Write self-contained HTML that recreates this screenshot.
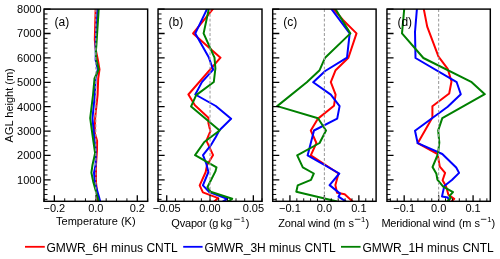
<!DOCTYPE html><html><head><meta charset="utf-8"><style>html,body{margin:0;padding:0;background:#fff}svg{display:block;will-change:transform}</style></head><body>
<svg width="500" height="259" viewBox="0 0 500 259" font-family="Liberation Sans, sans-serif">
<rect width="500" height="259" fill="#fff"/>
<g clip-path="url(#c0)" fill="none" stroke-width="2.0" stroke-linejoin="round" stroke-linecap="square">
<polyline points="95.6,9.1 94.8,40.0 95.8,50.0 97.9,60.0 99.5,69.3 98.2,78.5 97.6,95.0 95.1,118.2 94.8,133.0 97.1,140.8 97.0,150.0 96.0,165.0 96.0,182.0 97.9,201.3" stroke="#ff0000"/>
<polyline points="97.6,9.1 95.6,45.0 95.8,52.0 95.6,60.0 97.8,69.6 95.6,78.5 94.8,95.0 92.5,118.2 94.0,135.0 95.6,150.0 95.6,165.0 94.0,172.7 94.8,182.0 100.2,201.3" stroke="#0000ff"/>
<polyline points="98.7,9.1 96.4,45.0 95.8,52.0 96.4,60.0 98.7,69.3 94.5,78.5 93.0,95.0 90.2,118.2 92.5,135.0 95.1,153.2 92.5,165.0 91.4,172.7 93.3,182.0 98.7,201.3" stroke="#008000"/>
</g>
<clipPath id="c0"><rect x="44.0" y="9.1" width="103.65" height="192.20000000000002"/></clipPath>
<path d="M44.00 179.85h6.6 M44.00 155.45h6.6 M44.00 131.06h6.6 M44.00 106.67h6.6 M44.00 82.28h6.6 M44.00 57.88h6.6 M44.00 33.49h6.6 M44.00 9.10h6.6 M54.36 201.8v-6.6 M95.83 201.8v-6.6 M137.29 201.8v-6.6" stroke="#000" stroke-width="1.3" fill="none"/>
<path d="M44.00 199.36h3.5 M44.00 194.48h3.5 M44.00 189.60h3.5 M44.00 184.73h3.5 M44.00 174.97h3.5 M44.00 170.09h3.5 M44.00 165.21h3.5 M44.00 160.33h3.5 M44.00 150.58h3.5 M44.00 145.70h3.5 M44.00 140.82h3.5 M44.00 135.94h3.5 M44.00 126.18h3.5 M44.00 121.31h3.5 M44.00 116.43h3.5 M44.00 111.55h3.5 M44.00 101.79h3.5 M44.00 96.91h3.5 M44.00 92.03h3.5 M44.00 87.16h3.5 M44.00 77.40h3.5 M44.00 72.52h3.5 M44.00 67.64h3.5 M44.00 62.76h3.5 M44.00 53.01h3.5 M44.00 48.13h3.5 M44.00 43.25h3.5 M44.00 38.37h3.5 M44.00 28.61h3.5 M44.00 23.74h3.5 M44.00 18.86h3.5 M44.00 13.98h3.5 M44.00 201.8v-3.5 M64.73 201.8v-3.5 M75.09 201.8v-3.5 M85.46 201.8v-3.5 M106.19 201.8v-3.5 M116.55 201.8v-3.5 M126.92 201.8v-3.5 M147.65 201.8v-3.5" stroke="#000" stroke-width="0.95" fill="none"/>
<line x1="95.83" y1="9.1" x2="95.83" y2="201.3" stroke="#a0a0a0" stroke-width="1.1" stroke-dasharray="2.9 1.9"/>
<rect x="44.0" y="9.1" width="103.65" height="192.20" fill="none" stroke="#000" stroke-width="1.45"/>
<text x="54.36" y="211.9" font-size="11" text-anchor="middle">−0.2</text>
<text x="95.83" y="211.9" font-size="11" text-anchor="middle">0.0</text>
<text x="137.29" y="211.9" font-size="11" text-anchor="middle">0.2</text>
<text x="95.83" y="224.8" font-size="11" text-anchor="middle">Temperature (K)</text>
<text x="54.50" y="25.6" font-size="12">(a)</text>
<text x="41.6" y="183.75" font-size="11" text-anchor="end">1000</text>
<text x="41.6" y="159.35" font-size="11" text-anchor="end">2000</text>
<text x="41.6" y="134.96" font-size="11" text-anchor="end">3000</text>
<text x="41.6" y="110.57" font-size="11" text-anchor="end">4000</text>
<text x="41.6" y="86.18" font-size="11" text-anchor="end">5000</text>
<text x="41.6" y="61.78" font-size="11" text-anchor="end">6000</text>
<text x="41.6" y="37.39" font-size="11" text-anchor="end">7000</text>
<text x="41.6" y="13.00" font-size="11" text-anchor="end">8000</text>
<g clip-path="url(#c1)" fill="none" stroke-width="2.0" stroke-linejoin="round" stroke-linecap="square">
<polyline points="212.8,9.1 193.1,33.4 220.5,57.7 188.4,94.5 194.9,105.3 208.4,117.7 208.4,123.1 210.4,131.2 206.4,140.7 213.1,155.1 207.0,165.3 205.7,172.0 199.7,185.4 202.9,192.4 218.2,198.1 214.4,201.3" stroke="#ff0000"/>
<polyline points="207.0,9.1 195.3,33.4 208.6,57.0 213.2,69.6 201.9,82.1 195.3,94.5 215.8,106.0 231.1,118.8 219.2,130.5 215.8,137.0 211.3,144.6 203.0,155.1 206.4,163.9 208.4,172.0 202.9,185.4 209.3,192.1 227.1,198.8 223.3,201.3" stroke="#0000ff"/>
<polyline points="208.8,9.1 203.6,33.4 214.5,57.7 215.4,68.5 213.8,82.0 196.2,95.1 191.1,106.4 219.6,130.5 204.3,142.0 195.1,155.1 216.5,167.3 215.4,171.4 207.4,187.3 210.6,191.7 232.2,198.8 228.4,201.3" stroke="#008000"/>
</g>
<clipPath id="c1"><rect x="158.05" y="9.1" width="103.94999999999999" height="192.20000000000002"/></clipPath>
<path d="M158.05 179.85h6.6 M158.05 155.45h6.6 M158.05 131.06h6.6 M158.05 106.67h6.6 M158.05 82.28h6.6 M158.05 57.88h6.6 M158.05 33.49h6.6 M158.05 9.10h6.6 M166.71 201.8v-6.6 M210.03 201.8v-6.6 M253.34 201.8v-6.6" stroke="#000" stroke-width="1.3" fill="none"/>
<path d="M158.05 199.36h3.5 M158.05 194.48h3.5 M158.05 189.60h3.5 M158.05 184.73h3.5 M158.05 174.97h3.5 M158.05 170.09h3.5 M158.05 165.21h3.5 M158.05 160.33h3.5 M158.05 150.58h3.5 M158.05 145.70h3.5 M158.05 140.82h3.5 M158.05 135.94h3.5 M158.05 126.18h3.5 M158.05 121.31h3.5 M158.05 116.43h3.5 M158.05 111.55h3.5 M158.05 101.79h3.5 M158.05 96.91h3.5 M158.05 92.03h3.5 M158.05 87.16h3.5 M158.05 77.40h3.5 M158.05 72.52h3.5 M158.05 67.64h3.5 M158.05 62.76h3.5 M158.05 53.01h3.5 M158.05 48.13h3.5 M158.05 43.25h3.5 M158.05 38.37h3.5 M158.05 28.61h3.5 M158.05 23.74h3.5 M158.05 18.86h3.5 M158.05 13.98h3.5 M158.05 201.8v-3.5 M175.38 201.8v-3.5 M184.04 201.8v-3.5 M192.70 201.8v-3.5 M201.36 201.8v-3.5 M218.69 201.8v-3.5 M227.35 201.8v-3.5 M236.01 201.8v-3.5 M244.68 201.8v-3.5 M262.00 201.8v-3.5" stroke="#000" stroke-width="0.95" fill="none"/>
<line x1="210.03" y1="9.1" x2="210.03" y2="201.3" stroke="#a0a0a0" stroke-width="1.1" stroke-dasharray="2.9 1.9"/>
<rect x="158.05" y="9.1" width="103.95" height="192.20" fill="none" stroke="#000" stroke-width="1.45"/>
<text x="166.71" y="211.9" font-size="11" text-anchor="middle">−0.05</text>
<text x="210.03" y="211.9" font-size="11" text-anchor="middle">0.00</text>
<text x="253.34" y="211.9" font-size="11" text-anchor="middle">0.05</text>
<text x="171.35" y="226.5" font-size="11" letter-spacing="-0.2">Qvapor</text>
<text x="209.1" y="226.5" font-size="11" letter-spacing="0">(</text>
<text x="212.26" y="226.5" font-size="11" letter-spacing="0">g</text>
<text x="220.6" y="226.5" font-size="11" letter-spacing="0">kg</text>
<line x1="234.0" y1="219.3" x2="239.8" y2="219.3" stroke="#000" stroke-width="0.8"/>
<text x="240.8" y="222.0" font-size="7.7">1</text>
<text x="245.7" y="226.5" font-size="11">)</text>
<text x="168.55" y="25.6" font-size="12">(b)</text>
<g clip-path="url(#c2)" fill="none" stroke-width="2.0" stroke-linejoin="round" stroke-linecap="square">
<polyline points="333.5,9.1 343.0,20.0 356.5,33.4 348.4,57.7 335.6,70.2 330.8,82.2 335.6,94.6 334.0,105.8 318.0,118.6 310.8,130.5 316.4,143.0 310.8,155.4 338.5,173.5 335.4,185.1 337.0,192.8 344.7,194.3 352.4,201.3" stroke="#ff0000"/>
<polyline points="331.5,9.1 349.7,33.4 347.0,57.7 325.2,71.0 313.2,82.2 330.8,94.6 339.6,106.1 337.2,118.6 314.0,130.5 307.6,155.4 339.3,173.5 329.6,185.1 340.1,193.6 338.5,196.7 345.5,201.3" stroke="#0000ff"/>
<polyline points="335.5,9.1 350.4,33.4 325.1,57.7 319.6,70.2 306.8,82.2 277.2,106.1 318.0,118.2 326.0,130.5 319.6,143.0 297.2,155.4 302.8,167.4 313.8,173.5 311.0,179.8 297.7,185.4 296.3,191.7 336.2,201.3" stroke="#008000"/>
</g>
<clipPath id="c2"><rect x="272.7" y="9.1" width="103.40000000000003" height="192.20000000000002"/></clipPath>
<path d="M272.70 179.85h6.6 M272.70 155.45h6.6 M272.70 131.06h6.6 M272.70 106.67h6.6 M272.70 82.28h6.6 M272.70 57.88h6.6 M272.70 33.49h6.6 M272.70 9.10h6.6 M289.93 201.8v-6.6 M324.40 201.8v-6.6 M358.87 201.8v-6.6" stroke="#000" stroke-width="1.3" fill="none"/>
<path d="M272.70 199.36h3.5 M272.70 194.48h3.5 M272.70 189.60h3.5 M272.70 184.73h3.5 M272.70 174.97h3.5 M272.70 170.09h3.5 M272.70 165.21h3.5 M272.70 160.33h3.5 M272.70 150.58h3.5 M272.70 145.70h3.5 M272.70 140.82h3.5 M272.70 135.94h3.5 M272.70 126.18h3.5 M272.70 121.31h3.5 M272.70 116.43h3.5 M272.70 111.55h3.5 M272.70 101.79h3.5 M272.70 96.91h3.5 M272.70 92.03h3.5 M272.70 87.16h3.5 M272.70 77.40h3.5 M272.70 72.52h3.5 M272.70 67.64h3.5 M272.70 62.76h3.5 M272.70 53.01h3.5 M272.70 48.13h3.5 M272.70 43.25h3.5 M272.70 38.37h3.5 M272.70 28.61h3.5 M272.70 23.74h3.5 M272.70 18.86h3.5 M272.70 13.98h3.5 M276.15 201.8v-3.5 M283.04 201.8v-3.5 M296.83 201.8v-3.5 M303.72 201.8v-3.5 M310.61 201.8v-3.5 M317.51 201.8v-3.5 M331.29 201.8v-3.5 M338.19 201.8v-3.5 M345.08 201.8v-3.5 M351.97 201.8v-3.5 M365.76 201.8v-3.5 M372.65 201.8v-3.5" stroke="#000" stroke-width="0.95" fill="none"/>
<line x1="324.40" y1="9.1" x2="324.40" y2="201.3" stroke="#a0a0a0" stroke-width="1.1" stroke-dasharray="2.9 1.9"/>
<rect x="272.7" y="9.1" width="103.40" height="192.20" fill="none" stroke="#000" stroke-width="1.45"/>
<text x="289.93" y="211.9" font-size="11" text-anchor="middle">−0.1</text>
<text x="324.40" y="211.9" font-size="11" text-anchor="middle">0.0</text>
<text x="358.87" y="211.9" font-size="11" text-anchor="middle">0.1</text>
<text x="278.3" y="226.5" font-size="11" letter-spacing="-0.15">Zonal wind</text>
<text x="333.3" y="226.5" font-size="11" letter-spacing="0">(</text>
<text x="336.1" y="226.5" font-size="11" letter-spacing="0">m</text>
<text x="348.6" y="226.5" font-size="11" letter-spacing="0">s</text>
<line x1="354.9" y1="219.3" x2="360.4" y2="219.3" stroke="#000" stroke-width="0.8"/>
<text x="361.1" y="222.0" font-size="7.7">1</text>
<text x="365.5" y="226.5" font-size="11">)</text>
<text x="283.20" y="25.6" font-size="12">(c)</text>
<g clip-path="url(#c3)" fill="none" stroke-width="2.0" stroke-linejoin="round" stroke-linecap="square">
<polyline points="423.8,9.1 427.2,26.6 438.5,56.6 447.7,68.8 451.5,81.5 449.2,93.5 432.4,106.2 432.4,117.5 417.7,143.2 437.6,154.0 439.8,166.6 445.1,172.9 442.6,180.2 446.1,186.6 448.4,194.7 454.2,198.8 451.9,201.3" stroke="#ff0000"/>
<polyline points="416.9,9.1 415.0,32.0 415.5,58.0 456.7,82.2 460.8,94.2 447.7,106.7 415.0,130.7 417.7,143.2 442.3,154.0 456.2,167.5 459.1,172.9 451.9,180.0 444.3,186.0 442.0,196.4 447.8,197.6 449.5,201.3" stroke="#0000ff"/>
<polyline points="404.2,9.1 402.0,33.4 423.4,58.0 471.7,82.2 484.8,94.2 442.3,118.1 438.2,130.4 439.3,142.6 438.0,154.0 432.5,167.1 436.4,173.8 437.4,179.6 443.2,186.6 453.0,192.1 449.5,195.9 450.7,198.2 447.2,201.3" stroke="#008000"/>
</g>
<clipPath id="c3"><rect x="386.95" y="9.1" width="103.35000000000002" height="192.20000000000002"/></clipPath>
<path d="M386.95 179.85h6.6 M386.95 155.45h6.6 M386.95 131.06h6.6 M386.95 106.67h6.6 M386.95 82.28h6.6 M386.95 57.88h6.6 M386.95 33.49h6.6 M386.95 9.10h6.6 M404.18 201.8v-6.6 M438.62 201.8v-6.6 M473.08 201.8v-6.6" stroke="#000" stroke-width="1.3" fill="none"/>
<path d="M386.95 199.36h3.5 M386.95 194.48h3.5 M386.95 189.60h3.5 M386.95 184.73h3.5 M386.95 174.97h3.5 M386.95 170.09h3.5 M386.95 165.21h3.5 M386.95 160.33h3.5 M386.95 150.58h3.5 M386.95 145.70h3.5 M386.95 140.82h3.5 M386.95 135.94h3.5 M386.95 126.18h3.5 M386.95 121.31h3.5 M386.95 116.43h3.5 M386.95 111.55h3.5 M386.95 101.79h3.5 M386.95 96.91h3.5 M386.95 92.03h3.5 M386.95 87.16h3.5 M386.95 77.40h3.5 M386.95 72.52h3.5 M386.95 67.64h3.5 M386.95 62.76h3.5 M386.95 53.01h3.5 M386.95 48.13h3.5 M386.95 43.25h3.5 M386.95 38.37h3.5 M386.95 28.61h3.5 M386.95 23.74h3.5 M386.95 18.86h3.5 M386.95 13.98h3.5 M390.39 201.8v-3.5 M397.28 201.8v-3.5 M411.06 201.8v-3.5 M417.95 201.8v-3.5 M424.84 201.8v-3.5 M431.74 201.8v-3.5 M445.51 201.8v-3.5 M452.41 201.8v-3.5 M459.30 201.8v-3.5 M466.19 201.8v-3.5 M479.97 201.8v-3.5 M486.86 201.8v-3.5" stroke="#000" stroke-width="0.95" fill="none"/>
<line x1="438.62" y1="9.1" x2="438.62" y2="201.3" stroke="#a0a0a0" stroke-width="1.1" stroke-dasharray="2.9 1.9"/>
<rect x="386.95" y="9.1" width="103.35" height="192.20" fill="none" stroke="#000" stroke-width="1.45"/>
<text x="404.18" y="211.9" font-size="11" text-anchor="middle">−0.1</text>
<text x="438.62" y="211.9" font-size="11" text-anchor="middle">0.0</text>
<text x="473.08" y="211.9" font-size="11" text-anchor="middle">0.1</text>
<text x="381.4" y="226.5" font-size="11" letter-spacing="-0.2">Meridional wind</text>
<text x="458.7" y="226.5" font-size="11" letter-spacing="0">(</text>
<text x="462.3" y="226.5" font-size="11" letter-spacing="0">m</text>
<text x="474.5" y="226.5" font-size="11" letter-spacing="0">s</text>
<line x1="480.9" y1="219.3" x2="486.4" y2="219.3" stroke="#000" stroke-width="0.8"/>
<text x="487.3" y="222.0" font-size="7.7">1</text>
<text x="491.5" y="226.5" font-size="11">)</text>
<text x="397.45" y="25.6" font-size="12">(d)</text>
<text transform="translate(12.8 105.3) rotate(-90)" font-size="11" text-anchor="middle">AGL height (m)</text>
<line x1="25" y1="246.8" x2="44.8" y2="246.8" stroke="#ff0000" stroke-width="1.8"/>
<text x="46.4" y="251.5" font-size="12">GMWR_6H minus CNTL</text>
<line x1="183.2" y1="246.8" x2="202.6" y2="246.8" stroke="#0000ff" stroke-width="1.8"/>
<text x="204.4" y="251.5" font-size="12">GMWR_3H minus CNTL</text>
<line x1="341.0" y1="246.8" x2="360.6" y2="246.8" stroke="#008000" stroke-width="1.8"/>
<text x="362.4" y="251.5" font-size="12">GMWR_1H minus CNTL</text>
</svg></body></html>
